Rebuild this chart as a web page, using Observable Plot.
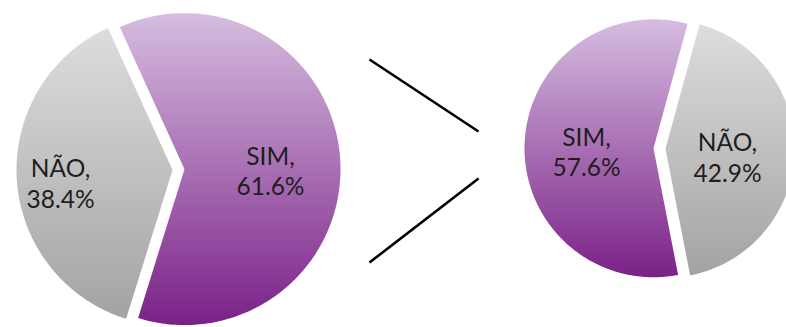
<!DOCTYPE html>
<html>
<head>
<meta charset="utf-8">
<script src="https://cdn.jsdelivr.net/npm/d3@7"></script>
<script src="https://cdn.jsdelivr.net/npm/@observablehq/plot@0.6"></script>
<style>
  html, body { margin: 0; padding: 0; background: #fff; }
  #chart svg { display: block; }
  #chart svg path[fill^="url"] { filter: drop-shadow(0 1px 1.5px rgba(0, 0, 0, 0.22)); }
</style>
</head>
<body>
<div id="chart"></div>
<script>
// Survey answers, before (left pie) and after (right pie)
const leftCategories = ["NÃO", "SIM"];
const leftValues = [38.4, 61.6];
const rightCategories = ["SIM", "NÃO"];
const rightValues = [57.6, 42.9];

// Layout of each pie: centre, radius, start angle (degrees, clockwise from 12 o'clock),
// explosion distance and label offsets from each slice's apex
const W = 786, H = 327;
const pies = [
  { cats: leftCategories, values: leftValues, cx: 178, cy: 169, r: 156, start: 197.3, explode: 6,
    labelOffset: [[-112, 13], [86, 1]] },
  { cats: rightCategories, values: rightValues, cx: 659, cy: 148, r: 129, start: 169, explode: 6,
    labelOffset: [[-67, 3], [62, 8]] }
];
// Arrow-like connector between the two pies
const connectors = [
  { x1: 369, y1: 59, x2: 478, y2: 131 },
  { x1: 369, y1: 262, x2: 478, y2: 178 }
];

const rad = Math.PI / 180;
const slices = [];
const labels = [];
pies.forEach((p, pi) => {
  const arcs = d3.pie().sort(null)
    .startAngle(p.start * rad)
    .endAngle(p.start * rad + 2 * Math.PI)(p.values);
  arcs.forEach((a, i) => {
    const cat = p.cats[i];
    const mid = (a.startAngle + a.endAngle) / 2;
    const ox = p.cx + p.explode * Math.sin(mid);
    const oy = p.cy - p.explode * Math.cos(mid);
    const pts = [{ x: ox, y: oy }];
    const n = Math.ceil((a.endAngle - a.startAngle) / rad);
    for (let k = 0; k <= n; k++) {
      const t = a.startAngle + (a.endAngle - a.startAngle) * k / n;
      pts.push({ x: ox + p.r * Math.sin(t), y: oy - p.r * Math.cos(t) });
    }
    slices.push({ cat, pts });
    labels.push({
      x: ox + p.labelOffset[i][0],
      y: oy + p.labelOffset[i][1],
      text: `${cat},\n${p.values[i].toFixed(1)}%`
    });
  });
});

const fills = { "SIM": "url(#grad-sim)", "NÃO": "url(#grad-nao)" };

const chart = Plot.plot({
  width: W,
  height: H,
  margin: 0,
  x: { domain: [0, W], range: [0, W], axis: null },
  y: { domain: [0, H], range: [0, H], axis: null },
  style: { background: "#fff", overflow: "hidden" },
  marks: [
    ...slices.map(s => Plot.line(s.pts, {
      x: "x", y: "y", curve: "linear-closed",
      fill: fills[s.cat], stroke: "none"
    })),
    Plot.link(connectors, {
      x1: "x1", y1: "y1", x2: "x2", y2: "y2",
      stroke: "#000", strokeWidth: 2.6
    }),
    Plot.text(labels, {
      x: "x", y: "y", text: "text",
      fontSize: 24.5, lineHeight: 1.24,
      fontFamily: "Lato, 'Open Sans', sans-serif",
      fill: "#1e1e1e"
    })
  ]
});

// Vertical gradients for the slice fills
const defs = d3.select(chart).insert("defs", ":first-child");
const addGrad = (id, top, bottom) => {
  const g = defs.append("linearGradient").attr("id", id)
    .attr("x1", 0).attr("y1", 0).attr("x2", 0).attr("y2", 1);
  g.append("stop").attr("offset", "0%").attr("stop-color", top);
  g.append("stop").attr("offset", "100%").attr("stop-color", bottom);
};
addGrad("grad-sim", "#d6bde0", "#7a2187");
addGrad("grad-nao", "#dddddd", "#a3a3a3");

document.getElementById("chart").appendChild(chart);
</script>
</body>
</html>
